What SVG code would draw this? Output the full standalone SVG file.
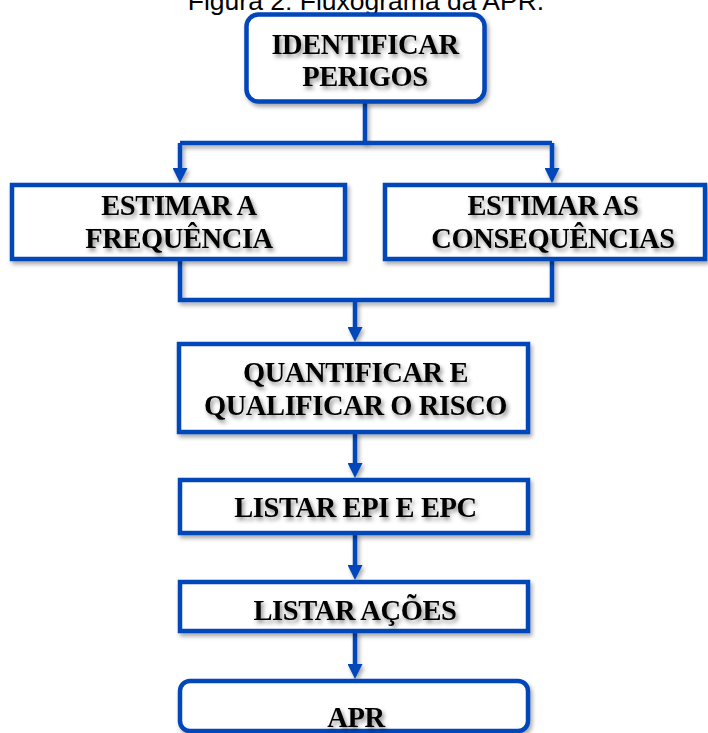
<svg xmlns="http://www.w3.org/2000/svg" width="708" height="733" viewBox="0 0 708 733">
  <defs>
    <filter id="sh" filterUnits="userSpaceOnUse" x="0" y="0" width="708" height="733">
      <feDropShadow dx="2" dy="3" stdDeviation="2" flood-color="#000" flood-opacity="0.35"/>
    </filter>
    <filter id="tsh" filterUnits="userSpaceOnUse" x="0" y="0" width="708" height="733">
      <feDropShadow dx="2" dy="3" stdDeviation="2" flood-color="#000" flood-opacity="0.45"/>
    </filter>
    <marker id="ah" viewBox="0 0 15 15" refX="7" refY="7.5" markerWidth="15" markerHeight="15" markerUnits="userSpaceOnUse" orient="auto">
      <path d="M0,0 L15,7.5 L0,15 z" fill="#0646BA"/>
    </marker>
  </defs>
  <style>
    .box { fill: #fff; stroke: #0646BA; stroke-width: 4.5; filter: url(#sh); }
    .con { fill: none; stroke: #0646BA; stroke-width: 4.5; filter: url(#sh); }
    .lbl { font-family: "Liberation Serif", "Times New Roman", serif; font-weight: bold; font-size: 28.5px; letter-spacing: -0.4px; fill: #000; text-anchor: middle; filter: url(#tsh); }
    .title { font-family: "Liberation Sans", Arial, sans-serif; font-size: 26.5px; fill: #000; text-anchor: middle; }
  </style>
  <rect width="708" height="733" fill="#fff"/>
  <text class="title" x="366" y="10">Figura 2: Fluxograma da APR.</text>

  <g id="connectors">
    <path class="con" d="M365 102 V143"/>
    <path class="con" d="M180 143 H552"/>
    <path class="con" d="M180 143 V175" marker-end="url(#ah)"/>
    <path class="con" d="M552 143 V175" marker-end="url(#ah)"/>
    <path class="con" d="M180 259 V300 H552 V259"/>
    <path class="con" d="M355 300 V334" marker-end="url(#ah)"/>
    <path class="con" d="M355 432 V470" marker-end="url(#ah)"/>
    <path class="con" d="M355 533 V572" marker-end="url(#ah)"/>
    <path class="con" d="M355 631 V671" marker-end="url(#ah)"/>
  </g>

  <g id="identificar">
    <rect class="box" x="246.5" y="14.5" width="238" height="87" rx="12"/>
    <text class="lbl" x="365" y="54">IDENTIFICAR</text>
    <text class="lbl" x="365" y="86">PERIGOS</text>
  </g>
  <g id="frequencia">
    <rect class="box" x="12" y="185" width="333" height="74"/>
    <text class="lbl" x="179" y="215">ESTIMAR A</text>
    <text class="lbl" x="179" y="248">FREQUÊNCIA</text>
  </g>
  <g id="consequencias">
    <rect class="box" x="385" y="185" width="320" height="74"/>
    <text class="lbl" x="553" y="215">ESTIMAR AS</text>
    <text class="lbl" x="553" y="248">CONSEQUÊNCIAS</text>
  </g>
  <g id="quantificar">
    <rect class="box" x="179" y="344" width="349" height="88"/>
    <text class="lbl" x="355.5" y="382">QUANTIFICAR E</text>
    <text class="lbl" x="355.5" y="415">QUALIFICAR O RISCO</text>
  </g>
  <g id="epi">
    <rect class="box" x="180" y="480" width="348" height="53"/>
    <text class="lbl" x="355.5" y="517">LISTAR EPI E EPC</text>
  </g>
  <g id="acoes">
    <rect class="box" x="180" y="582" width="348" height="49"/>
    <text class="lbl" x="355" y="620">LISTAR AÇÕES</text>
  </g>
  <g id="apr">
    <rect class="box" x="180" y="681" width="348" height="50" rx="10"/>
    <text class="lbl" x="356" y="727">APR</text>
  </g>
</svg>
